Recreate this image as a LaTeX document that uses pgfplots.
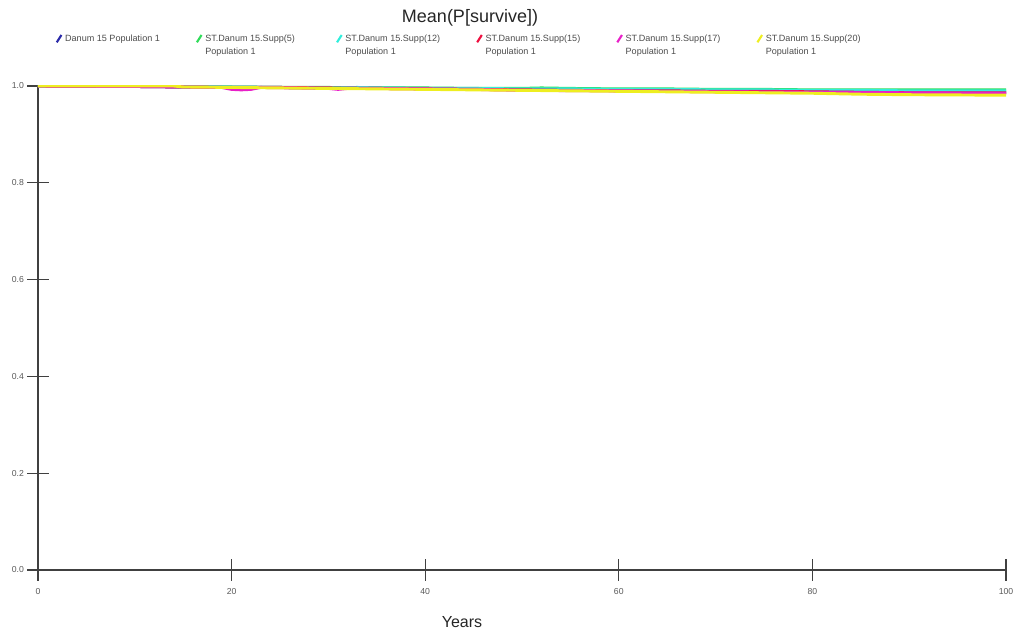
\documentclass[border=0pt]{standalone}
\usepackage{pgfplots}
\pgfplotsset{compat=1.18}
\usepackage{fontspec}
\setmainfont{Liberation Sans}
\definecolor{cBlue}{HTML}{2A2AA8}
\definecolor{cGreen}{HTML}{30DC5A}
\definecolor{cCyan}{HTML}{30EEDC}
\definecolor{cRed}{HTML}{EE1040}
\definecolor{cMag}{HTML}{E820C8}
\definecolor{cYel}{HTML}{EEEE20}
\newcommand{\legtxt}[2]{\parbox[t]{96pt}{\raggedright #1\\[2.2pt]#2}}
\begin{document}
\begin{tikzpicture}
\useasboundingbox (-28.5pt,-48.75pt) rectangle (734.25pt,427.5pt);
\begin{axis}[
  at={(0,0)}, anchor=south west,
  scale only axis, width=726pt, height=363pt,
  xmin=0, xmax=100, ymin=0, ymax=1.0,
  axis lines=left, axis line style={-, black!75, line width=0.8pt},
  xtick={0,20,40,60,80,100}, ytick={0,0.2,0.4,0.6,0.8,1.0},
  tick align=center, major tick length=16pt,
  tick style={black!75, line width=0.8pt},
  /pgf/number format/assume math mode=true,
  ticklabel style={font=\fontsize{6.5}{7}\selectfont, text=black!65},
  xticklabel style={yshift=-2pt},
  yticklabel style={/pgf/number format/fixed, /pgf/number format/fixed zerofill, /pgf/number format/precision=1, xshift=1pt},
  xlabel={Years},
  every axis x label/.style={at={(axis description cs:0.438,0)}, anchor=center, yshift=-39pt, font=\fontsize{12}{14}\selectfont, text=black!85},
  legend columns=6,
  legend style={at={(axis description cs:0.018,1.112)}, anchor=north west, draw=none, fill=none,
    font=\fontsize{6.8}{7.6}\selectfont, text=black!70, inner sep=0pt,
    /tikz/every even column/.append style={column sep=0pt}},
  legend cell align=left,
  legend image code/.code={\draw[#1, line width=1.6pt] (0pt,-2.5pt) -- (3.5pt,3pt);},
  every axis plot/.append style={line width=2.2pt, line join=round},
]
\addplot[cBlue] coordinates {(0,1)(5,1)(10,0.999)(15,0.998)(20,0.997)(25,0.997)(30,0.996)(35,0.996)(40,0.995)(45,0.994)(50,0.993)(55,0.993)(60,0.992)(65,0.992)(70,0.991)(75,0.990)(80,0.989)(85,0.988)(90,0.988)(95,0.987)(100,0.987)};
\addlegendentry{\legtxt{Danum 15 Population 1}{}}
\addplot[cGreen] coordinates {(0,1)(5,1)(10,0.9995)(12,1.0)(15,0.998)(20,0.998)(25,0.997)(30,0.997)(35,0.996)(40,0.996)(45,0.995)(50,0.995)(52,0.996)(55,0.995)(60,0.994)(65,0.994)(70,0.993)(75,0.993)(80,0.992)(85,0.992)(90,0.992)(95,0.992)(100,0.992)};
\addlegendentry{\legtxt{ST.Danum 15.Supp(5)}{Population 1}}
\addplot[cCyan] coordinates {(0,1)(5,1)(10,0.999)(15,0.998)(20,0.998)(25,0.997)(30,0.996)(33,0.997)(35,0.996)(40,0.995)(45,0.995)(50,0.994)(55,0.994)(60,0.993)(65,0.993)(70,0.992)(75,0.992)(80,0.991)(85,0.991)(90,0.990)(95,0.990)(100,0.990)};
\addlegendentry{\legtxt{ST.Danum 15.Supp(12)}{Population 1}}
\addplot[cRed] coordinates {(0,1)(10,0.999)(15,0.998)(20,0.997)(25,0.997)(30,0.996)(35,0.995)(40,0.994)(45,0.993)(50,0.992)(55,0.991)(60,0.990)(65,0.990)(70,0.989)(75,0.989)(80,0.988)(85,0.987)(90,0.986)(95,0.986)(100,0.986)};
\addlegendentry{\legtxt{ST.Danum 15.Supp(15)}{Population 1}}
\addplot[cMag] coordinates {(0,1)(10,0.999)(15,0.998)(19,0.997)(20,0.993)(21,0.992)(22,0.993)(23,0.997)(30,0.995)(31,0.993)(32,0.995)(35,0.995)(40,0.994)(45,0.993)(50,0.991)(60,0.990)(70,0.988)(80,0.987)(90,0.986)(100,0.985)};
\addlegendentry{\legtxt{ST.Danum 15.Supp(17)}{Population 1}}
\addplot[cYel] coordinates {(0,1)(14,1)(15,0.998)(20,0.997)(25,0.996)(30,0.995)(35,0.994)(40,0.993)(45,0.992)(50,0.991)(60,0.989)(70,0.987)(80,0.985)(85,0.983)(90,0.982)(100,0.981)};
\addlegendentry{\legtxt{ST.Danum 15.Supp(20)}{Population 1}}
\end{axis}
\node[font=\fontsize{13.5}{16}\selectfont, text=black!85] at (324pt,414pt) {Mean(P[survive])};
\end{tikzpicture}
\end{document}
